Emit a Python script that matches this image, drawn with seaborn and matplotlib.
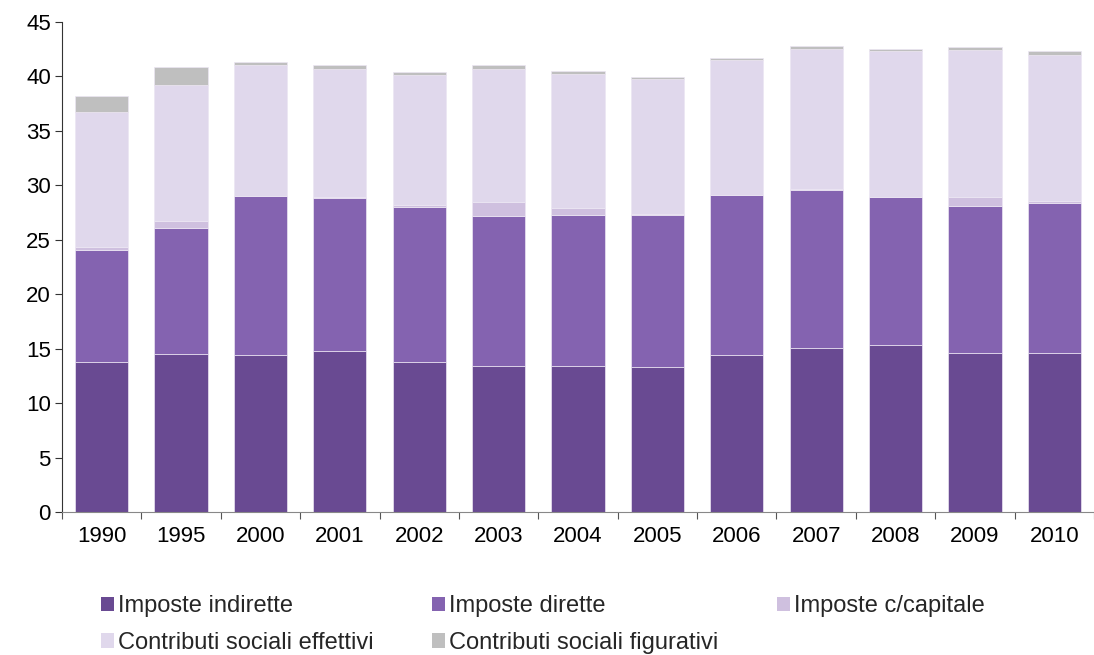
import numpy as np
import pandas as pd
import matplotlib
matplotlib.use('Agg')
import matplotlib.pyplot as plt
import seaborn as sns
from matplotlib.patches import Patch

# ============================================
# DATA (% values)
# ============================================
years = ['1990', '1995', '2000', '2001', '2002', '2003', '2004',
         '2005', '2006', '2007', '2008', '2009', '2010']

imposte_indirette = [13.8, 14.5, 14.4, 14.8, 13.8, 13.4, 13.4, 13.3, 14.4, 15.1, 15.3, 14.6, 14.6]
imposte_dirette = [10.3, 11.6, 14.6, 14.0, 14.2, 13.8, 13.9, 14.0, 14.7, 14.5, 13.6, 13.5, 13.8]
imposte_capitale = [0.2, 0.6, 0.05, 0.1, 0.2, 1.3, 0.6, 0.05, 0.05, 0.05, 0.05, 0.8, 0.15]
contributi_effettivi = [12.4, 12.5, 12.0, 11.8, 11.9, 12.2, 12.3, 12.4, 12.35, 12.85, 13.4, 13.55, 13.45]
contributi_figurativi = [1.5, 1.7, 0.25, 0.35, 0.3, 0.35, 0.3, 0.2, 0.2, 0.3, 0.2, 0.3, 0.3]

series_names = ['Imposte indirette', 'Imposte dirette', 'Imposte c/capitale',
                'Contributi sociali effettivi', 'Contributi sociali figurativi']
series_colors = ['#694a92', '#8463b0', '#cfc0df', '#e0d8ec', '#bfbfbf']

df = pd.DataFrame({
    'Anno': years,
    series_names[0]: imposte_indirette,
    series_names[1]: imposte_dirette,
    series_names[2]: imposte_capitale,
    series_names[3]: contributi_effettivi,
    series_names[4]: contributi_figurativi,
})

# ============================================
# STYLE
# ============================================
sns.set_style('white')
plt.rcParams['font.family'] = ['Liberation Sans', 'DejaVu Sans']
plt.rcParams['font.size'] = 16

fig = plt.figure(figsize=(10.94, 6.55), dpi=100)
ax = fig.add_axes([62 / 1094, (655 - 512) / 655, (1094 - 62) / 1094, 490 / 655])

# ============================================
# STACKED BARS
# ============================================
bottom = np.zeros(len(years))
for name, color in zip(series_names, series_colors):
    sns.barplot(data=df, x='Anno', y=name, bottom=bottom, color=color,
                saturation=1, width=0.67, edgecolor='#ece6f3', linewidth=0.5,
                errorbar=None, ax=ax)
    bottom = bottom + df[name].values

# ============================================
# AXES
# ============================================
ax.set_ylim(0, 45)
ax.set_yticks(range(0, 50, 5))
ax.set_xlim(-0.5, 12.44)
ax.set_xlabel('')
ax.set_ylabel('')

# tick marks between the categories, labels centred on bars
ax.set_xticks(np.arange(-0.5, 13, 1), minor=True)
ax.tick_params(axis='x', which='major', length=0, pad=10, labelsize=16, colors='#000000')
ax.tick_params(axis='x', which='minor', length=5, width=0.8, color='#555555', bottom=True)
ax.tick_params(axis='y', length=5, width=0.8, color='#333333', pad=3, labelsize=16,
               left=True, labelcolor='#000000')

for side in ['top', 'right']:
    ax.spines[side].set_visible(False)
ax.spines['left'].set_color('#333333')
ax.spines['bottom'].set_color('#888888')
ax.spines['left'].set_linewidth(0.8)
ax.spines['bottom'].set_linewidth(0.8)

# ============================================
# LEGEND (row order: 3 on top, 2 below)
# ============================================
handles = [Patch(facecolor=c, edgecolor='none') for c in series_colors]
order = [0, 3, 1, 4, 2]
fig.legend([handles[i] for i in order], [series_names[i] for i in order],
           ncol=3, loc='upper left', bbox_to_anchor=(80 / 1094, 1 - 574 / 655),
           frameon=False, fontsize=17, handlelength=0.55, handleheight=0.55,
           handletextpad=0.15, columnspacing=2.5, labelspacing=0.62)

fig.savefig('out.png', dpi=100)
